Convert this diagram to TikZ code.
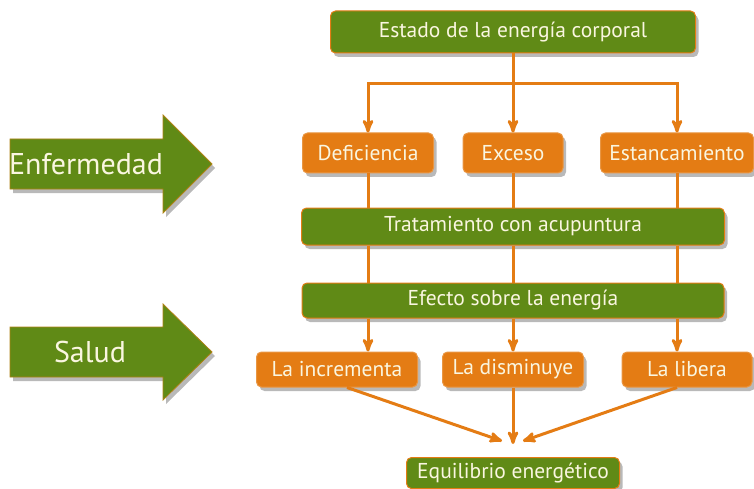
\documentclass[tikz,border=0pt]{standalone}
\usepackage{fontspec}
\setmainfont{PT Sans}
\usetikzlibrary{arrows,positioning,shadows,calc}

\definecolor{hojaverde}{RGB}{96,138,22}
\definecolor{naranja}{RGB}{228,124,20}
\definecolor{crema}{RGB}{250,246,224}

\begin{document}
\begin{tikzpicture}[x=1pt,y=1pt,->,>=stealth']
  \tikzstyle{sombra}=[drop shadow={shadow xshift=3pt,shadow yshift=-4pt,opacity=0.55}]
  \tikzstyle{caja}=[rectangle,rounded corners=5pt,line width=1pt,text=crema,
                    font=\fontsize{21.5}{24}\selectfont,inner sep=2pt,sombra]
  \tikzstyle{verde}=[caja,fill=hojaverde,draw=naranja]
  \tikzstyle{naranjo}=[caja,fill=naranja,draw=naranja!80!white]
  \tikzstyle{flecha}=[-,fill=hojaverde,draw=naranja!60!hojaverde,line width=0.8pt,sombra]
  \tikzstyle{rotulo}=[text=crema,font=\fontsize{30}{33}\selectfont]
  \tikzstyle{linea}=[draw=naranja,line width=3pt]

  \useasboundingbox (0,0) rectangle (754,-489);

  \filldraw[flecha] (10,-139) -- (163,-139) -- (163,-115) -- (212,-164)
        -- (163,-213) -- (163,-189) -- (10,-189) -- cycle;
  \node[rotulo] (enfermedad) at (86,-164) {Enfermedad};
  \filldraw[flecha] (10,-327) -- (163,-327) -- (163,-304) -- (212,-352)
        -- (163,-400) -- (163,-377) -- (10,-377) -- cycle;
  \node[rotulo] (salud) at (90,-352) {Salud};

  \node[verde,minimum width=365,minimum height=42] (estado) at (513,-32) {Estado de la energía corporal};
  \node[naranjo,minimum width=131,minimum height=40] (def) at (368,-153) {Deficiencia};
  \node[naranjo,minimum width=100,minimum height=40] (exc) at (513,-153) {Exceso};
  \node[naranjo,minimum width=153,minimum height=40] (est) at (677,-153) {Estancamiento};
  \node[verde,minimum width=423,minimum height=37] (trat) at (513,-226.5) {Tratamiento con acupuntura};
  \node[verde,minimum width=422,minimum height=35] (efe) at (513,-300.5) {Efecto sobre la energía};
  \node[naranjo,minimum width=161,minimum height=35] (inc) at (337,-369.5) {La incrementa};
  \node[naranjo,minimum width=141,minimum height=35] (dis) at (513,-369.5) {La disminuye};
  \node[naranjo,minimum width=130,minimum height=35] (lib) at (687,-369.5) {La libera};
  \node[verde,minimum width=213,minimum height=31] (eq) at (513,-473) {Equilibrio energético};

  \coordinate (reparto) at ($(estado.south)+(0,-30)$);
  \draw[linea,-] (estado.south) -- (reparto);
  \draw[linea] (reparto) -| (def.north);
  \draw[linea] (reparto) -- (exc.north);
  \draw[linea] (reparto) -| (est.north);

  \draw[linea,-] (def.south) -- (def.south |- trat.north);
  \draw[linea,-] (exc.south) -- (trat.north);
  \draw[linea,-] (est.south) -- (est.south |- trat.north);

  \draw[linea,-] (trat.south -| def) -- (efe.north -| def);
  \draw[linea,-] (trat.south) -- (efe.north);
  \draw[linea,-] (trat.south -| est) -- (efe.north -| est);

  \draw[linea] (efe.south -| def) -- (inc.north -| def);
  \draw[linea] (efe.south) -- (dis.north);
  \draw[linea] (efe.south -| est) -- (lib.north -| est);

  \draw[linea] ($(inc.south)+(10,0)$) -- ($(eq.north)+(-11,16)$);
  \draw[linea] (dis.south) -- ($(eq.north)+(0,13)$);
  \draw[linea] (lib.south -| est) -- ($(eq.north)+(10,16)$);
\end{tikzpicture}
\end{document}
